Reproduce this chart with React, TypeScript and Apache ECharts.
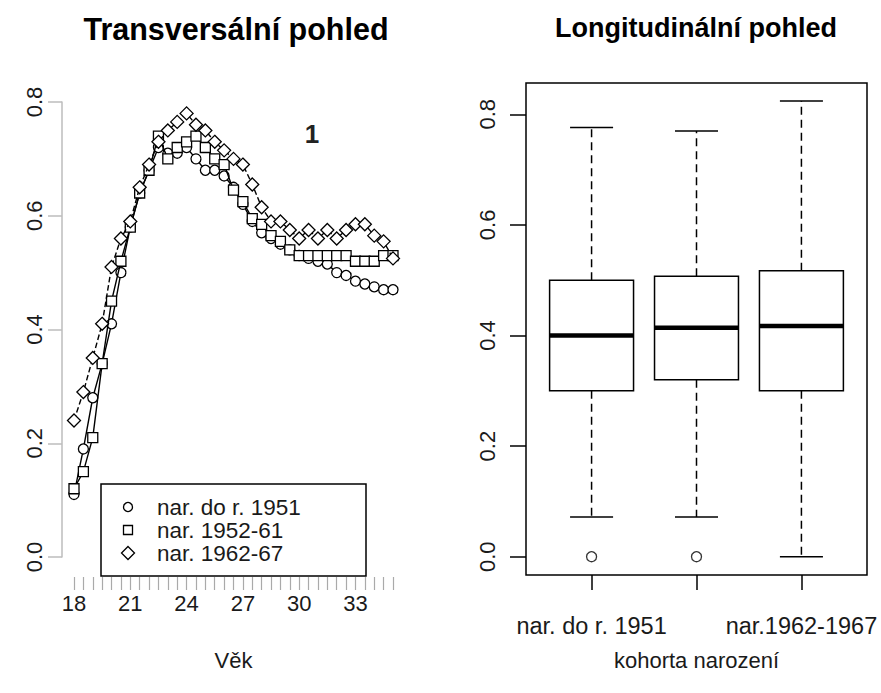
import React, { useEffect, useRef } from "react";
import * as echarts from "echarts";

// ---- Left panel: cross-sectional view ----
const ages = [18, 18.5, 19, 19.5, 20, 20.5, 21, 21.5, 22, 22.5, 23, 23.5, 24, 24.5, 25, 25.5, 26, 26.5, 27, 27.5, 28, 28.5, 29, 29.5, 30, 30.5, 31, 31.5, 32, 32.5, 33, 33.5, 34, 34.5, 35];
const ageTickLabels = [18, 21, 24, 27, 30, 33];
const seriesNames = ["nar. do r. 1951", "nar. 1952-61", "nar. 1962-67"];
const cohort1951 = [0.11, 0.19, 0.28, 0.34, 0.41, 0.5, 0.58, 0.64, 0.68, 0.72, 0.71, 0.71, 0.72, 0.7, 0.68, 0.68, 0.67, 0.65, 0.62, 0.59, 0.57, 0.56, 0.55, 0.54, 0.53, 0.525, 0.52, 0.515, 0.5, 0.495, 0.485, 0.48, 0.475, 0.47, 0.47];
const cohort1952 = [0.12, 0.15, 0.21, 0.34, 0.45, 0.52, 0.58, 0.64, 0.68, 0.74, 0.7, 0.72, 0.73, 0.74, 0.72, 0.7, 0.69, 0.645, 0.625, 0.595, 0.585, 0.565, 0.555, 0.54, 0.53, 0.53, 0.53, 0.53, 0.53, 0.53, 0.52, 0.52, 0.52, 0.53, 0.53];
const cohort1962 = [0.24, 0.29, 0.35, 0.41, 0.51, 0.56, 0.59, 0.65, 0.69, 0.73, 0.75, 0.765, 0.78, 0.76, 0.75, 0.73, 0.715, 0.7, 0.69, 0.655, 0.615, 0.59, 0.59, 0.575, 0.56, 0.575, 0.56, 0.575, 0.56, 0.575, 0.585, 0.585, 0.565, 0.555, 0.525];
const yTicks = [0, 0.2, 0.4, 0.6, 0.8];

// ---- Right panel: longitudinal view (boxplots) ----
const boxCategories = ["nar. do r. 1951", "nar. 1952-1961", "nar.1962-1967"];
const boxLabelShown = [true, false, true];
const boxLow = [0.072, 0.072, 0.0];
const boxQ1 = [0.3, 0.32, 0.3];
const boxMedian = [0.4, 0.414, 0.417];
const boxQ3 = [0.5, 0.507, 0.517];
const boxHigh = [0.776, 0.77, 0.824];
const outlierGroup = [1, 2];
const outlierValue = [0, 0];

const FONT = "'Liberation Sans', Arial, sans-serif";
const TXT = "#1a1a1a";

export default function App() {
  const ref = useRef<HTMLDivElement>(null);

  useEffect(() => {
    const chart = echarts.init(ref.current!, null, { renderer: "svg" });

    const symbols = ["circle", "rect", "diamond"];
    const symbolSizes = [10, 10, 13];
    const lineTypes: any[] = ["solid", "solid", "dashed"];
    const cohorts = [cohort1951, cohort1952, cohort1962];

    const lineSeries = cohorts.map((vals, k) => ({
      type: "line",
      name: seriesNames[k],
      xAxisIndex: 0,
      yAxisIndex: 0,
      data: ages.map((a, i) => [a, vals[i]]),
      symbol: symbols[k],
      symbolSize: symbolSizes[k],
      showAllSymbol: true,
      clip: false,
      lineStyle: { color: "#000", width: 1.4, type: lineTypes[k] },
      itemStyle: { color: "#fff", borderColor: "#000", borderWidth: 1.3 },
      z: 3 + k,
    }));

    const boxData = boxCategories.map((_, i) => [i + 1, boxLow[i], boxQ1[i], boxMedian[i], boxQ3[i], boxHigh[i]]);

    const legendRows = [507, 530, 553];
    const legendGraphics: any[] = [
      {
        type: "rect",
        shape: { x: 101, y: 484, width: 265, height: 92 },
        style: { fill: "#fff", stroke: "#000", lineWidth: 1.5 },
        z: 50,
      },
      {
        type: "circle",
        shape: { cx: 128, cy: legendRows[0], r: 4.5 },
        style: { fill: "#fff", stroke: "#000", lineWidth: 1.3 },
        z: 51,
      },
      {
        type: "rect",
        shape: { x: 123.5, y: legendRows[1] - 4.5, width: 9, height: 9 },
        style: { fill: "#fff", stroke: "#000", lineWidth: 1.3 },
        z: 51,
      },
      {
        type: "polygon",
        shape: { points: [[128, legendRows[2] - 6.5], [134.5, legendRows[2]], [128, legendRows[2] + 6.5], [121.5, legendRows[2]]] },
        style: { fill: "#fff", stroke: "#000", lineWidth: 1.3 },
        z: 51,
      },
      ...seriesNames.map((n, k) => ({
        type: "text",
        x: 157,
        y: legendRows[k],
        style: { text: n, fill: TXT, font: `22.5px ${FONT}`, verticalAlign: "middle" },
        z: 51,
      })),
      {
        type: "text",
        x: 312,
        y: 134,
        style: { text: "1", fill: "#222", font: `bold 26px ${FONT}`, align: "center", verticalAlign: "middle" },
        z: 51,
      },
    ];

    const option: any = {
      animation: false,
      backgroundColor: "#fff",
      textStyle: { fontFamily: FONT },
      title: [
        {
          text: "Transversální pohled",
          left: 231,
          top: 8,
          textAlign: "center",
          textStyle: { fontFamily: FONT, fontSize: 30.5, fontWeight: "bold", color: "#000" },
        },
        {
          text: "Longitudinální pohled",
          left: 691,
          top: 9,
          textAlign: "center",
          textStyle: { fontFamily: FONT, fontSize: 27, fontWeight: "bold", color: "#000" },
        },
      ],
      grid: [
        // data area of the left panel (y = 0 at its bottom edge)
        { left: 74, top: 102, width: 319, height: 455, containLabel: false },
        // right panel frame
        {
          left: 526,
          top: 83,
          width: 341,
          height: 492,
          show: true,
          borderColor: "#000",
          borderWidth: 1.5,
          backgroundColor: "transparent",
          containLabel: false,
        },
        // carrier of the detached age axis of the left panel
        { left: 74, top: 102, width: 319, height: 475, containLabel: false },
      ],
      xAxis: [
        {
          type: "value",
          gridIndex: 0,
          min: 18,
          max: 35,
          show: false,
        },
        {
          type: "value",
          gridIndex: 1,
          min: 0.375,
          max: 3.625,
          axisLine: { show: false, onZero: false },
          axisTick: { show: true, customValues: [1, 2, 3], length: 15, inside: false, lineStyle: { color: "#000", width: 1.5 } },
          axisLabel: {
            customValues: [1, 2, 3],
            margin: 39,
            fontSize: 23.5,
            color: TXT,
            fontFamily: FONT,
            formatter: (v: number) => (boxLabelShown[Math.round(v) - 1] ? boxCategories[Math.round(v) - 1] : ""),
          },
          splitLine: { show: false },
          name: "kohorta narození",
          nameLocation: "middle",
          nameGap: 74,
          nameTextStyle: { fontSize: 22, color: TXT, fontFamily: FONT },
        },
        {
          type: "value",
          gridIndex: 2,
          min: 18,
          max: 35,
          axisLine: { show: false, onZero: false },
          axisTick: { show: true, customValues: ages, length: 13, inside: false, lineStyle: { color: "#aaa", width: 1.2 } },
          axisLabel: { customValues: ageTickLabels, margin: 15, fontSize: 22, color: TXT, fontFamily: FONT },
          splitLine: { show: false },
          name: "Věk",
          nameLocation: "middle",
          nameGap: 72,
          nameTextStyle: { fontSize: 22, color: TXT, fontFamily: FONT },
        },
      ],
      yAxis: [
        {
          type: "value",
          gridIndex: 0,
          min: 0,
          max: 0.8,
          interval: 0.2,
          offset: 12,
          axisLine: { show: true, onZero: false, lineStyle: { color: "#bdbdbd", width: 1.5 } },
          axisTick: { show: true, length: 14, lineStyle: { color: "#bdbdbd", width: 1.5 } },
          axisLabel: { rotate: 90, margin: 17, fontSize: 22, color: TXT, fontFamily: FONT, formatter: (v: number) => v.toFixed(1) },
          splitLine: { show: false },
        },
        {
          type: "value",
          gridIndex: 1,
          min: -0.0331,
          max: 0.8566,
          axisLine: { show: false, onZero: false },
          axisTick: { show: true, customValues: yTicks, length: 16, lineStyle: { color: "#000", width: 1.5 } },
          axisLabel: {
            customValues: yTicks,
            rotate: 90,
            margin: 28,
            fontSize: 22,
            color: TXT,
            fontFamily: FONT,
            formatter: (v: number) => v.toFixed(1),
          },
          splitLine: { show: false },
        },
        {
          type: "value",
          gridIndex: 2,
          min: 0,
          max: 1,
          show: false,
        },
      ],
      series: [
        ...lineSeries,
        {
          type: "custom",
          name: "boxes",
          xAxisIndex: 1,
          yAxisIndex: 1,
          data: boxData,
          encode: { x: 0, y: [1, 2, 3, 4, 5] },
          clip: false,
          renderItem: (params: any, api: any) => {
            const x = api.value(0);
            const lo = api.coord([x, api.value(1)]);
            const q1 = api.coord([x, api.value(2)]);
            const md = api.coord([x, api.value(3)]);
            const q3 = api.coord([x, api.value(4)]);
            const hi = api.coord([x, api.value(5)]);
            const halfBox = api.size([0.4, 0])[0];
            const halfCap = api.size([0.205, 0])[0];
            const cx = lo[0];
            const st = { stroke: "#000", lineWidth: 1.5 };
            return {
              type: "group",
              children: [
                { type: "line", shape: { x1: cx, y1: q3[1], x2: cx, y2: hi[1] }, style: { ...st, lineDash: [8, 5] } },
                { type: "line", shape: { x1: cx, y1: q1[1], x2: cx, y2: lo[1] }, style: { ...st, lineDash: [8, 5] } },
                { type: "line", shape: { x1: cx - halfCap, y1: hi[1], x2: cx + halfCap, y2: hi[1] }, style: st },
                { type: "line", shape: { x1: cx - halfCap, y1: lo[1], x2: cx + halfCap, y2: lo[1] }, style: st },
                {
                  type: "rect",
                  shape: { x: cx - halfBox, y: q3[1], width: 2 * halfBox, height: q1[1] - q3[1] },
                  style: { fill: "#fff", ...st },
                },
                { type: "line", shape: { x1: cx - halfBox, y1: md[1], x2: cx + halfBox, y2: md[1] }, style: { stroke: "#000", lineWidth: 4.5 } },
              ],
            };
          },
        },
        {
          type: "scatter",
          name: "outliers",
          xAxisIndex: 1,
          yAxisIndex: 1,
          data: outlierGroup.map((g, i) => [g, outlierValue[i]]),
          symbol: "circle",
          symbolSize: 10,
          itemStyle: { color: "#fff", borderColor: "#000", borderWidth: 1.3 },
        },
      ],
      graphic: legendGraphics,
    };

    chart.setOption(option);
    return () => chart.dispose();
  }, []);

  return (
    <div
      ref={ref}
      style={{ position: "fixed", left: 0, top: 0, width: 881, height: 693, background: "#fff" }}
    />
  );
}
